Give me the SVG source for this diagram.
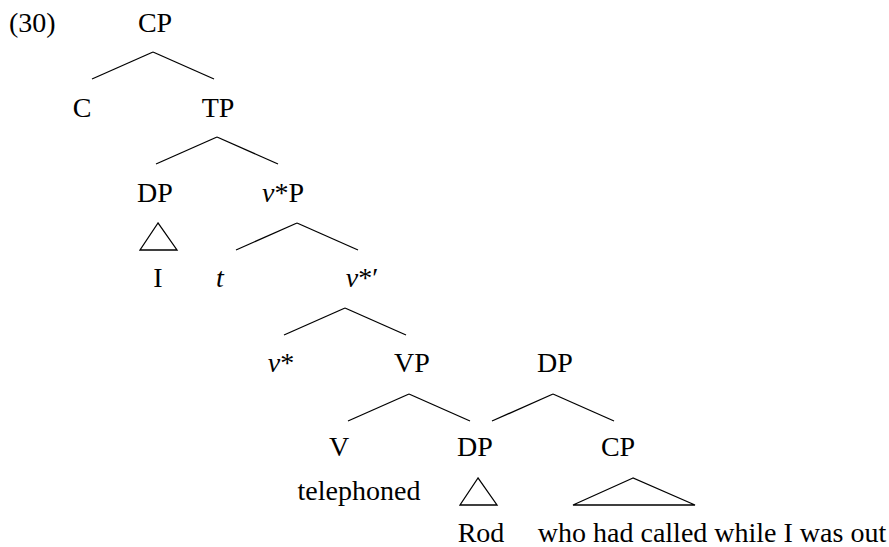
<svg xmlns="http://www.w3.org/2000/svg" width="889" height="547" viewBox="0 0 889 547">
<style>
text{font-family:"Liberation Serif","Times New Roman",serif;font-size:28px;fill:#000;text-anchor:middle}
.i{font-style:italic}
line,polygon{stroke:#000;stroke-width:1.3;fill:none}
</style>
<rect width="889" height="547" fill="#fff"/>
<text x="9" y="32" style="text-anchor:start">(30)</text>
<g id="connectors">
<line x1="153" y1="52" x2="92" y2="79"/>
<line x1="153" y1="52" x2="214" y2="79"/>
<line x1="217" y1="137" x2="156" y2="164"/>
<line x1="217" y1="137" x2="278" y2="164"/>
<line x1="297" y1="223" x2="236" y2="250"/>
<line x1="297" y1="223" x2="358" y2="250"/>
<line x1="345" y1="308" x2="284" y2="335"/>
<line x1="345" y1="308" x2="406" y2="335"/>
<line x1="409" y1="394" x2="348" y2="421"/>
<line x1="409" y1="394" x2="470" y2="421"/>
<line x1="553" y1="394" x2="492" y2="421"/>
<line x1="553" y1="394" x2="614" y2="421"/>
<polygon points="158,223 140,250 177,250"/>
<polygon points="478,478 460,505 497,505"/>
<polygon points="633,478 573,505 695,505"/>
</g>
<g id="n-cp"><text x="155" y="32">CP</text></g>
<g id="n-c"><text x="82" y="117">C</text></g>
<g id="n-tp"><text x="218" y="117">TP</text></g>
<g id="n-dp1"><text x="155" y="202">DP</text></g>
<g id="n-vsp"><text x="283" y="202"><tspan class="i">v</tspan>*P</text></g>
<g id="n-i"><text x="158" y="287">I</text></g>
<g id="n-t"><text x="220" y="287" class="i">t</text></g>
<g id="n-vsbar"><text x="362" y="287"><tspan class="i">v</tspan>*′</text></g>
<g id="n-vs"><text x="281" y="372"><tspan class="i">v</tspan>*</text></g>
<g id="n-vp"><text x="412" y="372">VP</text></g>
<g id="n-dp2"><text x="555" y="372">DP</text></g>
<g id="n-v"><text x="339" y="456">V</text></g>
<g id="n-dp3"><text x="475" y="456">DP</text></g>
<g id="n-cp2"><text x="618" y="456">CP</text></g>
<g id="n-tel"><text x="359" y="500">telephoned</text></g>
<g id="n-rod"><text x="481" y="542">Rod</text></g>
<g id="n-who"><text x="712" y="542">who had called while I was out</text></g>
</svg>
